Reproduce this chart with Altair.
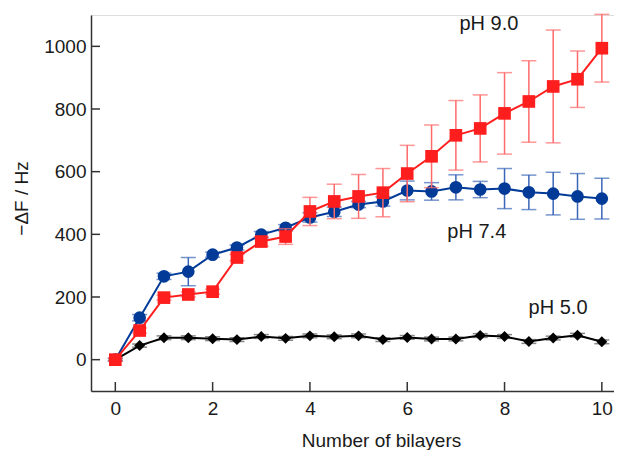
import altair as alt
import pandas as pd

# ---- data ----
bilayers = [0, 0.5, 1, 1.5, 2, 2.5, 3, 3.5, 4, 4.5, 5, 5.5, 6, 6.5, 7, 7.5, 8, 8.5, 9, 9.5, 10]

ph90 = [0, 93, 198, 208, 217, 326, 377, 393, 473, 505, 521, 533, 594, 649, 716, 738, 786, 824, 872, 895, 994]
ph90_err = [5, 8, 8, 8, 8, 10, 15, 25, 45, 55, 70, 77, 90, 100, 111, 107, 130, 130, 180, 90, 108]

ph74 = [0, 134, 266, 281, 335, 358, 399, 421, 454, 472, 495, 505, 540, 537, 550, 543, 546, 534, 530, 521, 514]
ph74_err = [5, 10, 10, 45, 8, 8, 10, 10, 15, 15, 10, 15, 30, 28, 40, 26, 64, 55, 68, 73, 65]

ph50 = [0, 45, 70, 70, 67, 64, 74, 68, 76, 73, 76, 64, 71, 66, 66, 77, 74, 58, 69, 78, 57]
ph50_err = [3, 5, 6, 6, 6, 6, 6, 6, 6, 6, 6, 6, 6, 6, 6, 6, 6, 6, 6, 6, 6]

label_text = ["pH 9.0", "pH 7.4", "pH 5.0"]
label_x = [7.68, 7.43, 9.1]
label_y = [1070, 409, 166]

x_ticks = [0, 2, 4, 6, 8, 10]
y_ticks = [0, 200, 400, 600, 800, 1000]

W, H = 523, 376
FONT = "Liberation Sans"
TXT = "#1a1a1a"

xscale = alt.Scale(domain=[-0.5, 10.25], nice=False, zero=False)
yscale = alt.Scale(domain=[-100, 1100], nice=False, zero=False)

xaxis = alt.Axis(title="Number of bilayers", values=x_ticks, ticks=False, grid=False,
                 labelPadding=8, titlePadding=13, titleX=290, domainColor="#333333", domainWidth=1.5,
                 labelFontSize=19, titleFontSize=19, labelColor=TXT, titleColor=TXT,
                 titleFontWeight="normal", labelFont=FONT, titleFont=FONT, format="d")
yaxis = alt.Axis(title="\u2212\u0394F / Hz", values=y_ticks, ticks=False, grid=False,
                 labelPadding=5, titlePadding=12, titleY=183, domainColor="#333333", domainWidth=1.5,
                 labelFontSize=19, titleFontSize=19, labelColor=TXT, titleColor=TXT,
                 titleFontWeight="normal", labelFont=FONT, titleFont=FONT, format="d")


def X(field):
    return alt.X(f"{field}:Q", scale=xscale, axis=xaxis)


def Y(field):
    return alt.Y(f"{field}:Q", scale=yscale, axis=yaxis)


series = [
    # name, values, errors, shape, color, error colour, size
    ("pH 5.0", ph50, ph50_err, "diamond", "#000000", "#555555", 120),
    ("pH 7.4", ph74, ph74_err, "circle", "#023a98", "#3a66b8", 160),
    ("pH 9.0", ph90, ph90_err, "square", "#ff1e1e", "#ff6a6a", 160),
]

layers = []
for name, vals, errs, shape, col, ecol, size in series:
    df = pd.DataFrame({
        "x": bilayers,
        "y": vals,
        "lo": [v - e for v, e in zip(vals, errs)],
        "hi": [v + e for v, e in zip(vals, errs)],
    })
    base = alt.Chart(df)
    layers.append(base.mark_rule(color=ecol, strokeWidth=1.5).encode(
        x=X("x"), y=Y("lo"), y2="hi"))
    layers.append(base.mark_tick(color=ecol, orient="horizontal", size=15, thickness=1.5).encode(
        x=X("x"), y=Y("lo")))
    layers.append(base.mark_tick(color=ecol, orient="horizontal", size=15, thickness=1.5).encode(
        x=X("x"), y=Y("hi")))
    layers.append(base.mark_line(color=col, strokeWidth=2).encode(x=X("x"), y=Y("y")))
    layers.append(base.mark_point(shape=shape, filled=True, opacity=1, color=col, size=size).encode(
        x=X("x"), y=Y("y")))

# inward tick marks
ydf = pd.DataFrame({"v": y_ticks})
xdf = pd.DataFrame({"v": x_ticks})
layers.append(alt.Chart(ydf).mark_rule(color="#333333", strokeWidth=1.5).encode(
    y=Y("v"), x=alt.value(0), x2=alt.value(9)))
layers.append(alt.Chart(xdf).mark_rule(color="#333333", strokeWidth=1.5).encode(
    x=X("v"), y=alt.value(H), y2=alt.value(H - 9)))

ldf = pd.DataFrame({"lx": label_x, "ly": label_y, "t": label_text})
layers.append(alt.Chart(ldf).mark_text(font=FONT, fontSize=20, color=TXT,
                                       align="center", baseline="middle").encode(
    x=X("lx"), y=Y("ly"), text="t:N"))

chart = alt.layer(*layers).properties(
    width=W, height=H,
    autosize=alt.AutoSizeParams(type="none"),
    padding={"left": 83, "top": 7, "right": 0, "bottom": 60},
).configure_view(stroke=None).configure(background="white")

chart.save("out.html", embed_options={"renderer": "svg", "actions": False})
